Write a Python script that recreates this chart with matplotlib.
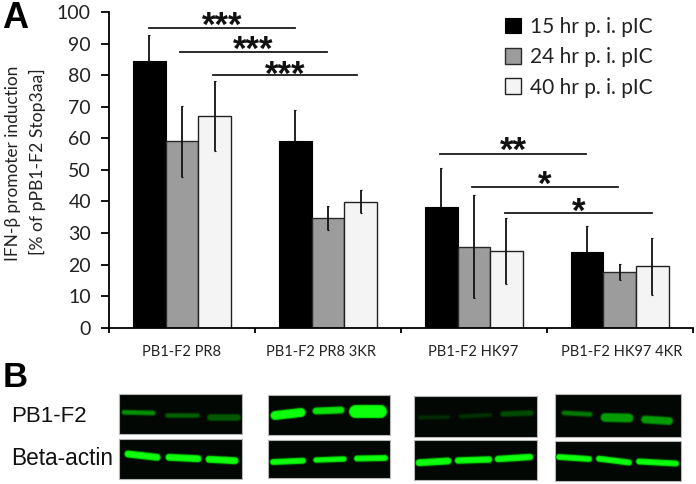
import matplotlib
matplotlib.use('Agg')
import matplotlib.pyplot as plt
from matplotlib.patches import Rectangle
import numpy as np

plt.rcParams['font.family'] = ['Lato', 'DejaVu Sans']

# panel A data
groups = ['PB1-F2 PR8', 'PB1-F2 PR8 3KR', 'PB1-F2 HK97', 'PB1-F2 HK97 4KR']
times = ['15 hr p. i. pIC', '24 hr p. i. pIC', '40 hr p. i. pIC']
hr15 = [84.5, 59.0, 38.3, 23.9]
hr24 = [59.0, 34.8, 25.7, 17.6]
hr40 = [67.0, 39.9, 24.3, 19.5]
err15 = [8.3, 10.0, 12.4, 8.3]
err24 = [11.3, 3.7, 16.2, 2.5]
err40 = [11.1, 3.7, 10.6, 9.0]

# significance bars: start, end, height, label
sig_start = [0.273, 0.487, 0.715, 2.269, 2.486, 2.714]
sig_end = [1.276, 1.493, 1.70, 3.272, 3.489, 3.720]
sig_y = [94.8, 87.4, 79.9, 54.9, 44.6, 36.4]
sig_text = ['***', '***', '***', '**', '*', '*']
star_y = [95.5, 88.0, 80.0, 55.8, 45.0, 36.5]

# panel B: blot frames and bands, in picture pixels
blot_frames = [
    (119, 242, 393.7, 434), (119, 242, 438.7, 479),
    (267.5, 390, 395.3, 435), (267.5, 390, 440, 478.3),
    (413.7, 537, 395.7, 436.7), (413.7, 537, 440.3, 479.7),
    (555, 681, 394.3, 437.3), (555, 681, 440.7, 481.3),
]
# x0, y0, x1, y1, thickness, brightness
bands = [
    (124, 412.3, 153, 413, 4, 0.5), (167, 415, 197, 415, 4, 0.32), (210, 416.5, 237, 416.5, 6, 0.3),
    (128, 454, 157, 457.3, 6, 1.0), (169, 457.3, 198, 458.7, 6, 1.0), (209, 459.3, 235, 460.7, 6, 1.0),
    (275, 415.5, 301, 412.5, 8, 1.0), (316, 411, 341, 410, 6, 0.85), (355, 410.7, 380, 410.7, 12, 1.0),
    (273, 462, 303, 460.7, 5, 1.0), (316, 460, 344, 459, 4.5, 1.0), (357, 458.5, 385, 458, 5, 1.0),
    (420, 417.5, 448, 417, 4, 0.1), (461, 416.5, 490, 415, 4, 0.13), (503, 414, 531, 413, 5, 0.24),
    (419, 462.7, 448, 461, 6, 1.0), (458, 460.5, 489, 459.5, 5.5, 1.0), (498, 459, 530, 457, 5.5, 1.0),
    (564, 413, 590, 414.3, 4, 0.42), (605, 417.5, 629, 418, 8, 0.55), (645, 419.5, 669, 421, 7, 0.55),
    (559, 457, 589, 459, 5, 1.0), (599, 458.7, 629, 462.5, 5, 1.0), (639, 461.5, 676, 463.5, 5, 1.0),
]

fig = plt.figure(figsize=(6.96, 4.84), dpi=100)
W, H = 696, 484
ax = fig.add_axes([109 / W, 1 - 327.7 / H, (692.7 - 109) / W, (327.7 - 12) / H])

x = np.arange(4) + 0.5
bw = 0.2235
ebar = dict(ecolor='#111111', elinewidth=1.3, capsize=0.8, capthick=0.8)
ax.bar(x - bw, hr15, bw, color='black', edgecolor='black', lw=0.8, yerr=[[0] * 4, err15], error_kw=ebar, label=times[0])
ax.bar(x, hr24, bw, color='#9c9c9c', edgecolor='#2a2a2a', lw=1.0, yerr=err24, error_kw=ebar, label=times[1])
ax.bar(x + bw, hr40, bw, color='#f4f4f4', edgecolor='#222222', lw=1.0, yerr=err40, error_kw=ebar, label=times[2])

ax.set_xlim(0, 4)
ax.set_ylim(0, 100)
ax.set_yticks(np.arange(0, 101, 10))
ax.set_xticks(np.arange(5))
ax.set_xticklabels([])
# the group labels do not sit exactly under the middle of their bars
ax.set_xticks([0.5, 1.45, 2.495, 3.515], minor=True)
ax.set_xticklabels(groups, minor=True, fontsize=10.5, color='#222222')
ax.tick_params(axis='y', labelsize=14, length=6, width=1.3, pad=7, labelcolor='#222222')
ax.tick_params(axis='x', which='major', length=3.5, width=1.3)
ax.tick_params(axis='x', which='minor', length=0, pad=12.5)
for side in ['top', 'right']:
    ax.spines[side].set_visible(False)
for side in ['left', 'bottom']:
    ax.spines[side].set_linewidth(1.3)

for s, e, y, t, sy in zip(sig_start, sig_end, sig_y, sig_text, star_y):
    ax.plot([s, e], [y, y], color='#1a1a1a', lw=1.3, clip_on=False)
    ax.text((s + e) / 2, sy, t, ha='center', va='center', fontsize=25, fontweight='bold',
            family='Liberation Sans', color='#111111', clip_on=False)

ax.legend(loc='upper left', bbox_to_anchor=(0.678, 0.985), frameon=False, fontsize=15,
          handlelength=0.8, handleheight=0.8, handletextpad=0.4, labelspacing=0.5,
          labelcolor='#222222', borderpad=0, borderaxespad=0)

fig.text(13 / W, 1 - 163 / H, 'IFN-β promoter induction', rotation=90, ha='center', va='center',
         fontsize=12.4, color='#222222')
fig.text(37 / W, 1 - 162 / H, '[% of pPB1-F2 Stop3aa]', rotation=90, ha='center', va='center',
         fontsize=12.6, color='#222222')

# panel letters and blot labels
fig.text(2 / W, 1 - 28 / H, 'A', fontsize=26, fontweight='bold', family='Liberation Sans', color='black')
fig.text(3 / W, 1 - 387 / H, 'B', fontsize=25, fontweight='bold', family='Liberation Sans', color='black')
fig.text(11 / W, 1 - 421.7 / H, 'PB1-F2', fontsize=16, family='Liberation Sans', color='#111111')
fig.text(11 / W, 1 - 465 / H, 'Beta-actin', fontsize=16.3, family='Liberation Sans', color='#111111')

# overlay in picture pixels for the western blots
blot = fig.add_axes([0, 0, 1, 1], facecolor='none')
blot.set_xlim(0, W)
blot.set_ylim(H, 0)
blot.axis('off')
for x0, x1, y0, y1 in blot_frames:
    blot.add_patch(Rectangle((x0, y0), x1 - x0, y1 - y0, facecolor='#030703', edgecolor='#b5b5b5', lw=0.8))
px = 0.72
for x0, y0, x1, y1, th, b in bands:
    # soft halo first, then the core of the band
    blot.plot([x0, x1], [y0, y1], color=(0, 0.55, 0), alpha=0.4 * b, lw=(th + 3) * px, solid_capstyle='round')
    blot.plot([x0, x1], [y0, y1], color=(0, 0.75 * b + 0.1, 0), alpha=min(1, b + 0.3), lw=(th + 1) * px, solid_capstyle='round')
    blot.plot([x0, x1], [y0, y1], color=(0.05 * b, 0.25 + 0.75 * b, 0.05 * b), alpha=min(1, b + 0.2), lw=max(th - 1, 1) * px, solid_capstyle='round')

fig.savefig('out.png', dpi=100)
